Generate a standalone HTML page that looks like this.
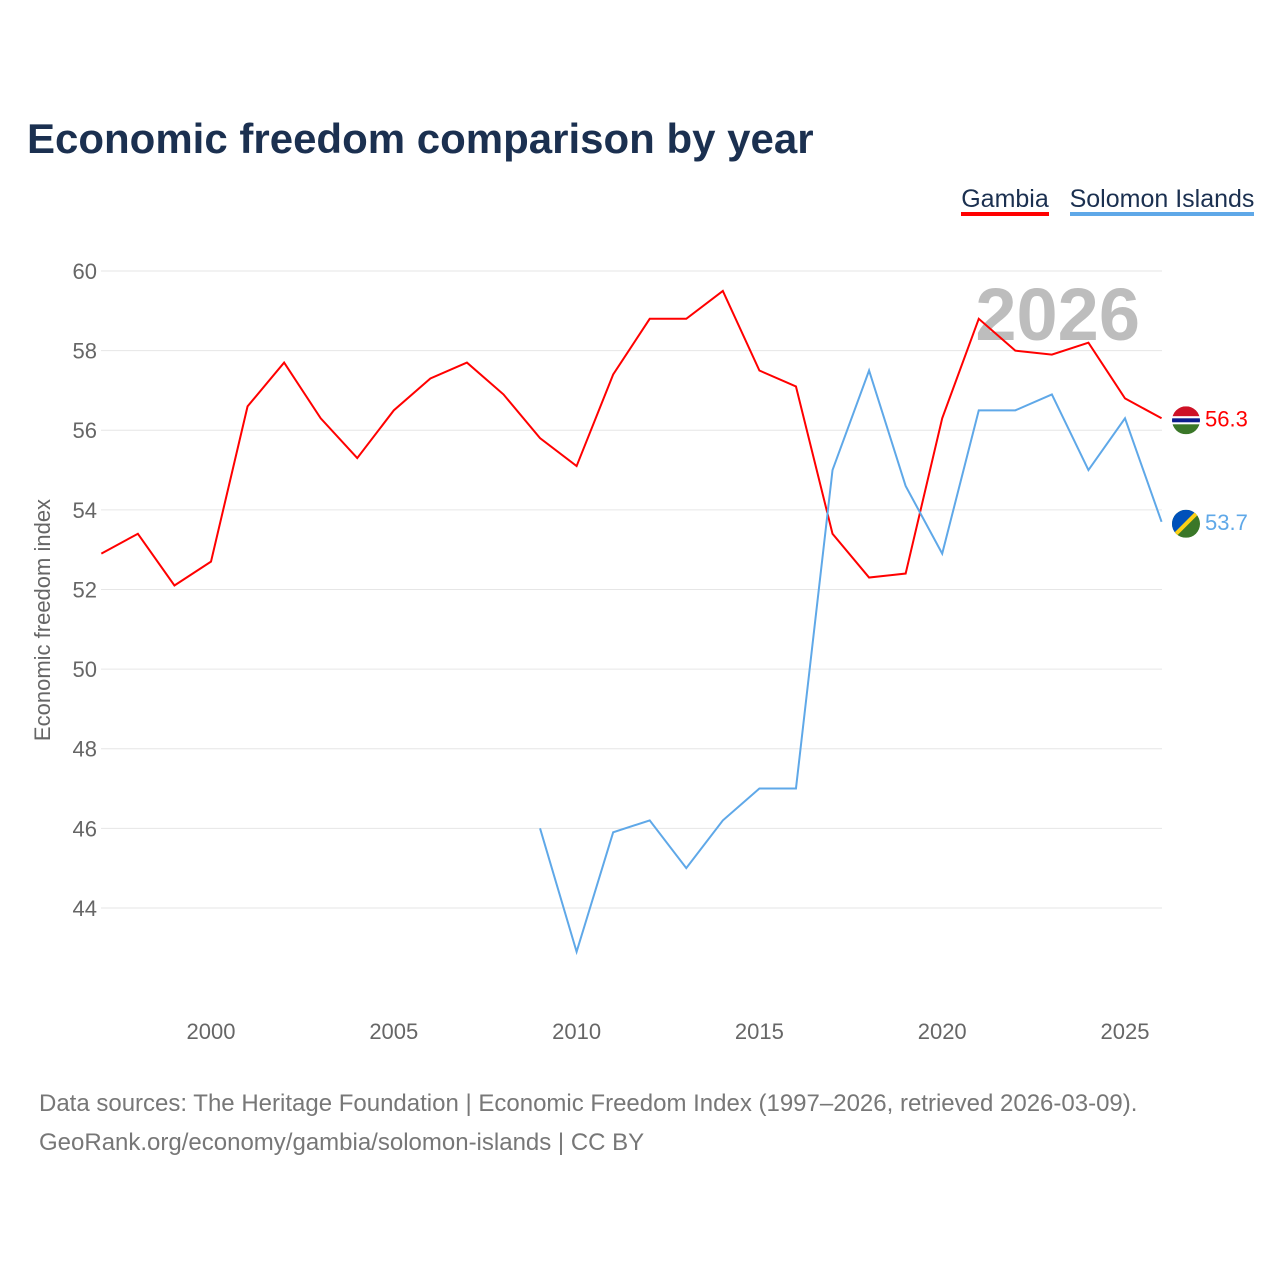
<!DOCTYPE html>
<html><head><meta charset="utf-8"><style>
body{margin:0;background:#fff;font-family:"Liberation Sans",sans-serif;}
#wrap{position:relative;width:1280px;height:1280px;overflow:hidden}
</style></head><body>
<div id="wrap">
<svg id="chart" width="1280" height="1280"></svg>
</div>
<script>
const years=[1997,1998,1999,2000,2001,2002,2003,2004,2005,2006,2007,2008,2009,2010,2011,2012,2013,2014,2015,2016,2017,2018,2019,2020,2021,2022,2023,2024,2025,2026];
const gambia=[52.9,53.4,52.1,52.7,56.6,57.7,56.3,55.3,56.5,57.3,57.7,56.9,55.8,55.1,57.4,58.8,58.8,59.5,57.5,57.1,53.4,52.3,52.4,56.3,58.8,58.0,57.9,58.2,56.8,56.3];
const solomonYears=[2009,2010,2011,2012,2013,2014,2015,2016,2017,2018,2019,2020,2021,2022,2023,2024,2025,2026];
const solomon=[46.0,42.9,45.9,46.2,45.0,46.2,47.0,47.0,55.0,57.5,54.6,52.9,56.5,56.5,56.9,55.0,56.3,53.7];
const yTicks=[44,46,48,50,52,54,56,58,60];
const xTicks=[2000,2005,2010,2015,2020,2025];

const NS="http://www.w3.org/2000/svg";
const svg=document.getElementById('chart');
function x(v){return 211+(v-2000)*36.56;}
function y(v){return 271+(60-v)*39.81;}
function el(t,a,txt){const e=document.createElementNS(NS,t);for(const k in a)e.setAttribute(k,a[k]);if(txt!==undefined)e.textContent=txt;svg.appendChild(e);return e;}

let e;
e=el('text',{x:27,y:153,'font-size':42,'font-weight':'bold',fill:'#1b3050'},'Economic freedom comparison by year');


e=el('text',{x:1005,y:207,'font-size':25,fill:'#1b3050','text-anchor':'middle'},'Gambia');

el('rect',{x:961,y:212,width:88,height:4,fill:'#ff0000'});
e=el('text',{x:1162,y:207,'font-size':25,fill:'#1b3050','text-anchor':'middle'},'Solomon Islands');

el('rect',{x:1070,y:212,width:184,height:4,fill:'#5fa8e8'});

yTicks.forEach(t=>{
 e=el('line',{x1:101,x2:1162,y1:y(t),y2:y(t),stroke:'#e6e6e6','stroke-width':1});
 
 e=el('text',{x:97,y:y(t)+8,'font-size':22,fill:'#666','text-anchor':'end'},t);
 
});
xTicks.forEach(t=>{
 e=el('text',{x:x(t),y:1039,'font-size':22,fill:'#666','text-anchor':'middle'},t);
 
});
e=el('text',{x:0,y:0,'font-size':22,fill:'#666','text-anchor':'middle',transform:'translate(50,620) rotate(-90)'},'Economic freedom index');


e=el('text',{x:1140,y:340,'font-size':74,'font-weight':'bold',fill:'#bdbdbd','text-anchor':'end'},'2026');


e=el('polyline',{points:years.map((yr,i)=>x(yr)+','+y(gambia[i])).join(' '),fill:'none',stroke:'#ff0000','stroke-width':2});

e=el('polyline',{points:solomonYears.map((yr,i)=>x(yr)+','+y(solomon[i])).join(' '),fill:'none',stroke:'#5fa8e8','stroke-width':2});


// end markers
const gy=y(gambia[gambia.length-1]), sy=y(solomon[solomon.length-1]);
e=el('g',{});
e.innerHTML=`<clipPath id="c1"><circle cx="1186" cy="${gy+2}" r="14"/></clipPath><g clip-path="url(#c1)"><rect x="1172" y="${gy-12}" width="28" height="10" fill="#ce1126"/><rect x="1172" y="${gy-2}" width="28" height="8" fill="#fff"/><rect x="1172" y="${gy}" width="28" height="4" fill="#0c1c8c"/><rect x="1172" y="${gy+6}" width="28" height="10" fill="#3a7728"/></g>`;
e=el('g',{});
e.innerHTML=`<clipPath id="c2"><circle cx="1186" cy="${sy+2}" r="14"/></clipPath><g clip-path="url(#c2)"><rect x="1172" y="${sy-12}" width="28" height="28" fill="#3a7728"/><polygon points="1172,${sy-12} 1200,${sy-12} 1172,${sy+16}" fill="#0051ba"/><line x1="1200" y1="${sy-12}" x2="1172" y2="${sy+16}" stroke="#fcd116" stroke-width="4"/></g>`;
e=el('text',{x:1205,y:gy+8,'font-size':22,fill:'#ff0000'},gambia[gambia.length-1].toFixed(1));

e=el('text',{x:1205,y:sy+8,'font-size':22,fill:'#5fa8e8'},solomon[solomon.length-1].toFixed(1));


e=el('text',{x:39,y:1111,'font-size':24,fill:'#777'},'Data sources: The Heritage Foundation | Economic Freedom Index (1997–2026, retrieved 2026-03-09).');

e=el('text',{x:39,y:1150,'font-size':24,fill:'#777'},'GeoRank.org/economy/gambia/solomon-islands | CC BY');

</script>
</body></html>
